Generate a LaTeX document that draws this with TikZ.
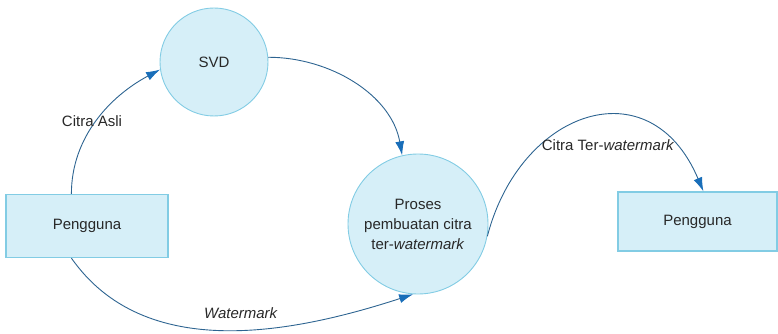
\documentclass[tikz,border=0pt]{standalone}
\usepackage{fontspec}
\setmainfont{Liberation Sans}
\usetikzlibrary{arrows.meta}
\definecolor{boxfill}{RGB}{214,239,248}
\definecolor{boxline}{RGB}{130,204,228}
\definecolor{flow}{RGB}{45,100,145}
\definecolor{tipblue}{RGB}{25,110,185}
\definecolor{txt}{RGB}{40,40,40}
\begin{document}
\begin{tikzpicture}[x=1pt,y=-1pt,
  every node/.style={font=\fontsize{15}{20}\selectfont, text=txt},
  proc/.style={circle, draw=boxline, fill=boxfill, line width=0.9pt, inner sep=0pt, align=center},
  entity/.style={rectangle, draw=boxline, fill=boxfill, line width=1.2pt, inner sep=0pt},
  flowline/.style={draw=flow, line width=0.9pt, -{Latex[length=14pt,width=9pt,fill=tipblue,color=tipblue]}},
  lbl/.style={inner sep=1pt}]
\useasboundingbox (0,0) rectangle (778,334);
\node[proc, minimum size=108pt] (svd) at (214,62) {SVD};
\node[proc, minimum size=140pt] (proses) at (418,224) {Proses\\pembuatan citra\\ter-\textit{watermark}};
\node[entity, minimum width=162pt, minimum height=63pt] (p1) at (87,226) {Pengguna};
\node[entity, minimum width=159pt, minimum height=59pt] (p2) at (697.5,221.5) {Pengguna};
\draw[flowline] ([xshift=66pt]p1.north west) to[out=90,in=208,looseness=0.95] (svd.188);
\draw[flowline] (svd.5) to[out=0,in=100,looseness=0.95] (proses.103);
\draw[flowline] ([xshift=66pt]p1.south west) to[out=-55,in=198,looseness=0.95] (proses.266);
\draw[flowline] (proses.-10) .. controls (520,110) and (650,65) .. ([xshift=86pt]p2.north west);
\node[lbl] (l1) at (92,121) {Citra Asli};
\node[lbl] (l2) at (241,313) {\textit{Watermark}};
\node[lbl] (l3) at (608,145) {Citra Ter-\textit{watermark}};
\end{tikzpicture}
\end{document}
